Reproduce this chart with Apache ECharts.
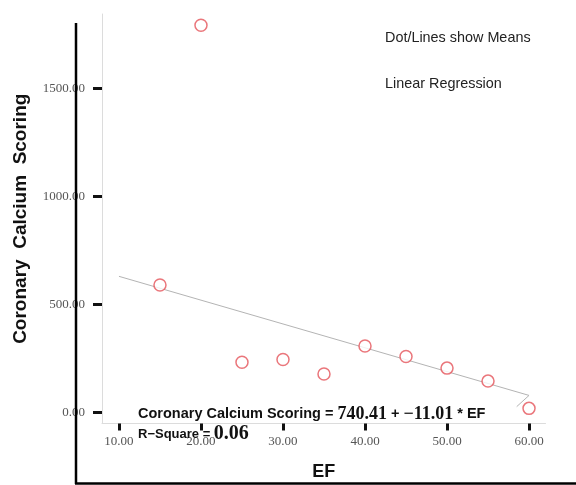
<!DOCTYPE html>
<html>
<head>
<meta charset="utf-8">
<script src="https://cdn.jsdelivr.net/npm/echarts@6/dist/echarts.min.js"></script>
<style>html,body{margin:0;padding:0;background:#fff;}#c{width:576px;height:485px;}</style>
</head>
<body>
<div id="c"></div>
<script>
// Data
var efValues = [15, 20, 25, 30, 35, 40, 45, 50, 55, 60];
var calciumMeans = [590, 1791, 233, 246, 179, 308, 260, 206, 146, 20];
var regressionX = [10, 60, 58.5];
var regressionY = [630.3, 79.8, 28];
var xTicks = [10, 20, 30, 40, 50, 60];
var yTicks = [0, 500, 1000, 1500];
var xTitle = 'EF';
var yTitle = 'Coronary  Calcium  Scoring';
var noteLines = ['Dot/Lines show Means', 'Linear Regression'];

var chart = echarts.init(document.getElementById('c'), null, {renderer: 'canvas'});
var serif = '"Liberation Serif", "Times New Roman", serif';
var sans = '"Liberation Sans", Arial, sans-serif';

chart.setOption({
  animation: false,
  backgroundColor: '#fff',
  grid: {left: 102, top: 14, right: 30.5, bottom: 61.5, outerBoundsMode: 'none', containLabel: false},
  xAxis: {
    type: 'value', min: 7.93, max: 62.01,
    name: xTitle, nameLocation: 'middle', nameGap: 40,
    nameTextStyle: {fontFamily: sans, fontWeight: 'bold', fontSize: 18, color: '#111'},
    axisLine: {show: true, onZero: false, lineStyle: {color: '#dcdcdc', width: 1}},
    axisTick: {show: true, customValues: xTicks, length: 7, lineStyle: {color: '#111', width: 3}},
    axisLabel: {customValues: xTicks, margin: 12, fontFamily: serif, fontSize: 13, color: '#555',
      formatter: function (v) { return v.toFixed(2); }},
    splitLine: {show: false}
  },
  yAxis: {
    type: 'value', min: -50, max: 1843,
    name: yTitle, nameLocation: 'middle', nameGap: 72, nameRotate: 90,
    nameTextStyle: {fontFamily: sans, fontWeight: 'bold', fontSize: 19, color: '#111'},
    axisLine: {show: true, onZero: false, lineStyle: {color: '#dcdcdc', width: 1}},
    axisTick: {show: true, customValues: yTicks, length: 9, lineStyle: {color: '#111', width: 3}},
    axisLabel: {customValues: yTicks, margin: 17, fontFamily: serif, fontSize: 13, color: '#555',
      formatter: function (v) { return v.toFixed(2); }},
    splitLine: {show: false}
  },
  series: [
    {
      type: 'line',
      data: regressionX.map(function (x, i) { return [x, regressionY[i]]; }),
      symbol: 'none',
      lineStyle: {color: '#b4b4b4', width: 1},
      z: 2
    },
    {
      type: 'scatter',
      data: efValues.map(function (x, i) { return [x, calciumMeans[i]]; }),
      symbol: 'circle',
      symbolSize: 12,
      itemStyle: {color: '#fff', borderColor: '#e5545a', borderWidth: 1.5},
      z: 3
    }
  ],
  graphic: [
    {type: 'line', shape: {x1: 76, y1: 23, x2: 76, y2: 484}, style: {stroke: '#000', lineWidth: 2.5}, z: 10},
    {type: 'line', shape: {x1: 75, y1: 483.5, x2: 576, y2: 483.5}, style: {stroke: '#000', lineWidth: 2.5}, z: 10},
    {type: 'text', left: 385, top: 31, style: {text: noteLines[0], font: '14.4px ' + sans, fill: '#222'}},
    {type: 'text', left: 385, top: 77, style: {text: noteLines[1], font: '14.4px ' + sans, fill: '#222'}},
    {type: 'text', left: 138, top: 405, z: 20, style: {
      text: '{a|Coronary Calcium Scoring}{s| = }{b|740.41}{s| + }{b|\u221211.01}{s| * }{a|EF}',
      rich: {
        a: {fontFamily: sans, fontWeight: 'bold', fontSize: 14.5, fill: '#111'},
        s: {fontFamily: sans, fontWeight: 'bold', fontSize: 14.5, fill: '#111'},
        b: {fontFamily: serif, fontWeight: 'bold', fontSize: 18, fill: '#111'}
      }}},
    {type: 'text', left: 138, top: 424, z: 20, style: {
      text: '{a|R\u2212Square}{s| = }{b|0.06}',
      rich: {
        a: {fontFamily: sans, fontWeight: 'bold', fontSize: 13, fill: '#111'},
        s: {fontFamily: sans, fontWeight: 'bold', fontSize: 13, fill: '#111'},
        b: {fontFamily: serif, fontWeight: 'bold', fontSize: 20, fill: '#111'}
      }}}
  ]
});
</script>
</body>
</html>
